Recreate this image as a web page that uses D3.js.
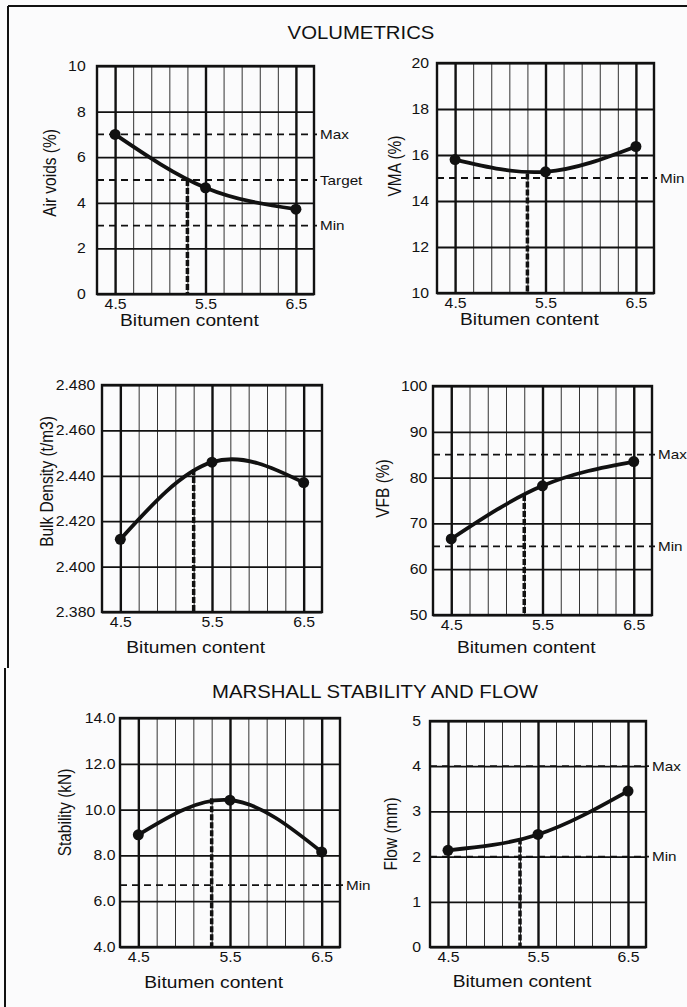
<!DOCTYPE html>
<html>
<head>
<meta charset="utf-8">
<script src="https://cdn.jsdelivr.net/npm/d3@7"></script>
<style>
  html, body { margin: 0; padding: 0; background: #fbfbfc; }
  svg { display: block; }
  text { font-family: "Liberation Sans", Arial, Helvetica, sans-serif; fill: #111; }
</style>
</head>
<body>
<svg id="svg"></svg>
<script>
// values
var bitumen = [4.5, 5.5, 6.5];
var bitumenTicks = [4.5, 5.5, 6.5];
var optimumBitumen = 5.3;

var airVoids = [7.0, 4.66, 3.72];
var airVoidsTicks = [0, 2, 4, 6, 8, 10];
var airVoidsLimits = [["Max", 7], ["Target", 5], ["Min", 3]];
var airVoidsAtOptimum = 5.0;

var vma = [15.8, 15.27, 16.37];
var vmaTicks = [10, 12, 14, 16, 18, 20];
var vmaLimits = [["Min", 15]];
var vmaAtOptimum = 15.2;

var bulkDensity = [2.412, 2.446, 2.437];
var bulkDensityTicks = [2.380, 2.400, 2.420, 2.440, 2.460, 2.480];
var bulkDensityLimits = [];
var bulkDensityAtOptimum = 2.443;

var vfb = [66.6, 78.2, 83.5];
var vfbTicks = [50, 60, 70, 80, 90, 100];
var vfbLimits = [["Max", 85], ["Min", 65]];
var vfbAtOptimum = 76.2;

var stability = [8.9, 10.41, 8.15];
var stabilityTicks = [4, 6, 8, 10, 12, 14];
var stabilityLimits = [["Min", 6.7]];
var stabilityAtOptimum = 10.5;

var flow = [2.14, 2.49, 3.45];
var flowTicks = [0, 1, 2, 3, 4, 5];
var flowLimits = [["Max", 4], ["Min", 2]];
var flowAtOptimum = 2.4;

var width = 687, height = 1007, stretch = 1.13;

var svg = d3.select("#svg")
    .attr("width", width)
    .attr("height", height);

// page frame (top and left edges only)
svg.append("path")
    .attr("d", "M8,6H687M8,6V668M5,668V1007")
    .attr("fill", "none")
    .attr("stroke", "#111")
    .attr("stroke-width", 2);

function title(txt, x, y) {
  svg.append("g")
      .attr("transform", "translate(" + x + "," + y + ") scale(" + stretch + ",1)")
    .append("text")
      .attr("text-anchor", "middle")
      .style("font-size", "18px")
      .text(txt);
}
title("VOLUMETRICS", 361, 39);
title("MARSHALL STABILITY AND FLOW", 375, 698);

var panels = [
  {x: 97,  y: 66,  w: 217, h: 228, name: "Air voids (%)",       values: airVoids,    ticks: airVoidsTicks,    fmt: "d",   limits: airVoidsLimits,    opt: airVoidsAtOptimum,    lx: -47, ly: -7,  gap: 10, tdy: 32},
  {x: 437, y: 63,  w: 217, h: 230, name: "VMA (%)",             values: vma,         ticks: vmaTicks,         fmt: "d",   limits: vmaLimits,         opt: vmaAtOptimum,         lx: -42, ly: -12, gap: 7,  tdy: 32},
  {x: 102, y: 385, w: 220, h: 227, name: "Bulk Density (t/m3)", values: bulkDensity, ticks: bulkDensityTicks, fmt: ".3f", limits: bulkDensityLimits, opt: bulkDensityAtOptimum, lx: -55, ly: -17, gap: 6,  tdy: 41},
  {x: 433, y: 386, w: 219, h: 229, name: "VFB (%)",             values: vfb,         ticks: vfbTicks,         fmt: "d",   limits: vfbLimits,         opt: vfbAtOptimum,         lx: -50, ly: -12, gap: 5,  tdy: 38},
  {x: 120, y: 718, w: 220, h: 229, name: "Stability (kN)",      values: stability,   ticks: stabilityTicks,   fmt: ".1f", limits: stabilityLimits,   opt: stabilityAtOptimum,   lx: -55, ly: -20, gap: 4,  tdy: 41},
  {x: 430, y: 721, w: 216, h: 226, name: "Flow (mm)",           values: flow,        ticks: flowTicks,        fmt: "d",   limits: flowLimits,        opt: flowAtOptimum,        lx: -39, ly: 0,   gap: 8,  tdy: 40}
];

panels.forEach(function(p) {
  var g = svg.append("g").attr("transform", "translate(" + p.x + "," + p.y + ")");

  var x = d3.scaleLinear().domain([4.3, 6.7]).range([0, p.w]);
  var y = d3.scaleLinear().domain(d3.extent(p.ticks)).range([p.h, 0]);

  // thin vertical grid every 0.2
  g.append("g")
      .attr("transform", "translate(0," + p.h + ")")
      .call(d3.axisBottom(x).tickValues(d3.range(4.5, 6.55, 0.2)).tickSize(-p.h).tickFormat(""))
      .call(function(a) {
        a.select(".domain").remove();
        a.selectAll("line").attr("stroke", "#333").attr("stroke-width", 1);
      });

  // horizontal grid + y labels
  g.append("g")
      .call(d3.axisLeft(y).tickValues(p.ticks).tickSizeInner(-p.w).tickSizeOuter(0)
          .tickPadding(p.gap).tickFormat(d3.format(p.fmt)))
      .call(function(a) {
        a.select(".domain").remove();
        a.selectAll("line").attr("stroke", "#111").attr("stroke-width", 1.8);
        a.selectAll("text")
            .attr("fill", "#111")
            .attr("transform", "scale(" + stretch + ",1)")
            .style("font-size", "14px")
            .style("font-family", "'Liberation Sans', Arial, sans-serif");
      });

  // bold verticals at the labelled contents + x labels
  g.append("g")
      .attr("transform", "translate(0," + p.h + ")")
      .call(d3.axisBottom(x).tickValues(bitumenTicks).tickSizeInner(-p.h).tickSizeOuter(0)
          .tickPadding(5).tickFormat(d3.format(".1f")))
      .call(function(a) {
        a.select(".domain").remove();
        a.selectAll("line").attr("stroke", "#111").attr("stroke-width", 2.4);
        a.selectAll("text")
            .attr("fill", "#111")
            .attr("transform", "scale(" + stretch + ",1)")
            .style("font-size", "14px")
            .style("font-family", "'Liberation Sans', Arial, sans-serif");
      });

  // plot box
  g.append("rect")
      .attr("width", p.w)
      .attr("height", p.h)
      .attr("fill", "none")
      .attr("stroke", "#111")
      .attr("stroke-width", 2.4);

  // specification limits
  p.limits.forEach(function(l) {
    g.append("line")
        .attr("x1", 0).attr("x2", p.w + 3)
        .attr("y1", y(l[1])).attr("y2", y(l[1]))
        .attr("stroke", "#111")
        .attr("stroke-width", 1.8)
        .attr("stroke-dasharray", "7,5");
    g.append("g")
        .attr("transform", "translate(" + (p.w + 6) + "," + y(l[1]) + ") scale(" + stretch + ",1)")
      .append("text")
        .attr("dy", "0.35em")
        .style("font-size", "13.5px")
        .text(l[0]);
  });

  // optimum bitumen drop line
  g.append("line")
      .attr("x1", x(optimumBitumen)).attr("x2", x(optimumBitumen))
      .attr("y1", y(p.opt)).attr("y2", p.h)
      .attr("stroke", "#111")
      .attr("stroke-width", 3.5)
      .attr("stroke-dasharray", "6,2");

  var pts = bitumen.map(function(b, i) { return [b, p.values[i]]; });

  g.append("path")
      .datum(pts)
      .attr("fill", "none")
      .attr("stroke", "#111")
      .attr("stroke-width", 3.8)
      .attr("d", d3.line()
          .x(function(d) { return x(d[0]); })
          .y(function(d) { return y(d[1]); })
          .curve(d3.curveNatural));

  g.selectAll("circle")
      .data(pts)
      .enter().append("circle")
      .attr("cx", function(d) { return x(d[0]); })
      .attr("cy", function(d) { return y(d[1]); })
      .attr("r", 5.5)
      .attr("fill", "#111");

  // axis titles
  g.append("g")
      .attr("transform", "translate(" + (x(5.3) + 2) + "," + (p.h + p.tdy) + ") scale(" + stretch + ",1)")
    .append("text")
      .attr("text-anchor", "middle")
      .style("font-size", "17px")
      .text("Bitumen content");

  g.append("g")
      .attr("transform", "translate(" + p.lx + "," + (p.h / 2 + p.ly) + ") scale(" + stretch + ",1) rotate(-90)")
    .append("text")
      .attr("text-anchor", "middle")
      .attr("dy", "0.35em")
      .style("font-size", "15.5px")
      .text(p.name);
});
</script>
</body>
</html>
